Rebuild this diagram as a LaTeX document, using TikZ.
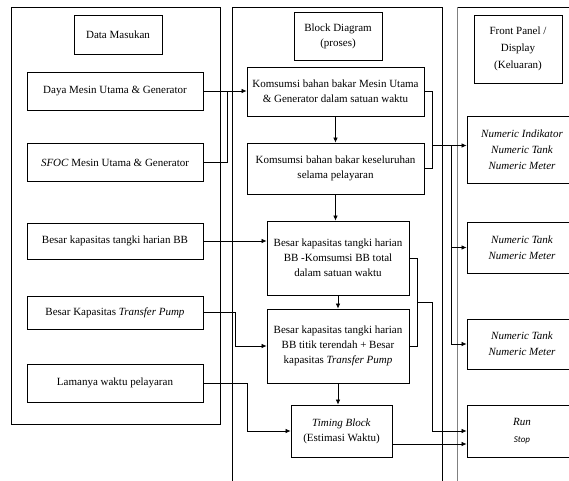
\documentclass[tikz,border=0pt]{standalone}
\usepackage{fontspec}
\setmainfont{Liberation Serif}
\newfontfamily\kecilfont{Carlito}
\usetikzlibrary{arrows.meta,positioning,calc}

\tikzset{
  kotak/.style={draw, line width=0.8pt, align=center, inner sep=2pt,
    font=\fontsize{11}{15}\selectfont},
  masuk/.style={kotak, minimum width=176pt, minimum height=38pt},
  judul/.style={kotak, minimum width=88pt},
  keluar/.style={kotak, minimum width=110pt, font=\itshape\fontsize{11}{16}\selectfont},
  panel/.style={draw, line width=0.8pt},
  garis/.style={line width=0.7pt},
}

\begin{document}
\begin{tikzpicture}[>={Latex[length=5pt,width=4.5pt]}, x=1pt, y=-1pt]
    \useasboundingbox (0,0) rectangle (569,480);
    \clip (0,0) rectangle (569,480);

    % Panels
    \draw[panel] (11,7) rectangle (220,424);
    \draw[panel] (232,490) -- (232,7) -- (442,7) -- (442,490);
    \draw[panel] (457,7) -- (590,7);
    \draw[panel, gray] (457,490) -- (457,7);

    % Data Masukan
    \node[judul, minimum height=39pt] (masukan) at (118,34.5) {Data Masukan};
    \node[masuk] (daya) at (115,91) {Daya Mesin Utama \& Generator};
    \node[masuk] (sfoc) at (115,162.5) {\textit{SFOC} Mesin Utama \& Generator};
    \node[masuk, minimum height=36pt] (tangki) at (115,241) {Besar kapasitas tangki harian BB};
    \node[masuk, minimum height=33pt] (pump) at (115,312.5) {Besar Kapasitas \textit{Transfer Pump}};
    \node[masuk] (lama) at (115,383) {Lamanya waktu pelayaran};

    % Block Diagram (proses)
    \node[judul, minimum height=48pt] (proses) at (338,36) {Block Diagram\\(proses)};
    \node[kotak, minimum width=177pt, minimum height=49pt] (kons1) at (335.5,91.5)
        {Komsumsi bahan bakar Mesin Utama\\\& Generator dalam satuan waktu};
    \node[kotak, minimum width=177pt, minimum height=51pt] (kons2) at (335.5,168.5)
        {Komsumsi bahan bakar keseluruhan\\selama pelayaran};
    \node[kotak, minimum width=142pt, minimum height=74pt] (sisa) at (338,258)
        {Besar kapasitas tangki harian\\BB -Komsumsi BB total\\dalam satuan waktu};
    \node[kotak, minimum width=142pt, minimum height=74pt] (terendah) at (338,346)
        {Besar kapasitas tangki harian\\BB titik terendah + Besar\\kapasitas \textit{Transfer Pump}};
    \node[kotak, minimum width=101pt, minimum height=52pt] (timing) at (341.5,431)
        {\textit{Timing Block}\\(Estimasi Waktu)};

    % Front Panel (keluaran)
    \node[judul, minimum height=68pt, font=\fontsize{11}{17}\selectfont] (front) at (518,49)
        {Front Panel /\\Display\\(Keluaran)};
    \node[keluar, minimum height=67pt] (num1) at (522,149.5)
        {Numeric Indikator\\Numeric Tank\\Numeric Meter};
    \node[keluar, minimum height=51pt] (num2) at (522,247.5) {Numeric Tank\\Numeric Meter};
    \node[keluar, minimum height=50pt] (num3) at (522,344) {Numeric Tank\\Numeric Meter};
    \node[keluar, minimum height=52pt] (run) at (522,431)
        {Run\\[1pt]{\kecilfont\fontsize{9}{10}\selectfont Stop}};

    % Masukan ke proses
    \draw[garis] (daya.east) -- ++(24,0) coordinate (j1);
    \draw[garis] (sfoc.east) -| (j1);
    \draw[garis, ->] (j1) -- (j1 -| kons1.west);
    \draw[garis, ->] (tangki.east) -- (tangki.east -| sisa.west);
    \draw[garis, ->] (pump.east) -- ++(32,0) |- (terendah.west);
    \draw[garis, ->] (lama.east) -- ++(44,0) |- (timing.west);

    % Alur proses
    \draw[garis, ->] (kons1.south) -- (kons2.north);
    \draw[garis, ->] (kons2.south) -- (kons2.south |- sisa.north);
    \draw[garis, ->] (sisa.south) -- (terendah.north);
    \draw[garis, ->] (terendah.south) -- (terendah.south |- timing.north);

    % Proses ke keluaran
    \draw[garis] (kons1.east) -- ++(8,0) coordinate (b1) |- (kons2.east);
    \path (b1) ++(0,54) coordinate (j2);
    \draw[garis, ->] (j2) -- (j2 -| num1.west);
    \path (j2) ++(19,0) coordinate (j3);
    \draw[garis, ->] (j3) |- (num2.west);
    \draw[garis, ->] (j3) |- (num3.west);
    \draw[garis] (sisa.east) -- ++(8,0) coordinate (b2) |- (terendah.east);
    \path (b2) ++(0,44) coordinate (j4);
    \draw[garis, ->] (j4) -- ++(15,0) |- (run.west);
    \path (timing.east) ++(0,13) coordinate (t1);
    \draw[garis, ->] (t1) -- (t1 -| run.west);
\end{tikzpicture}
\end{document}
